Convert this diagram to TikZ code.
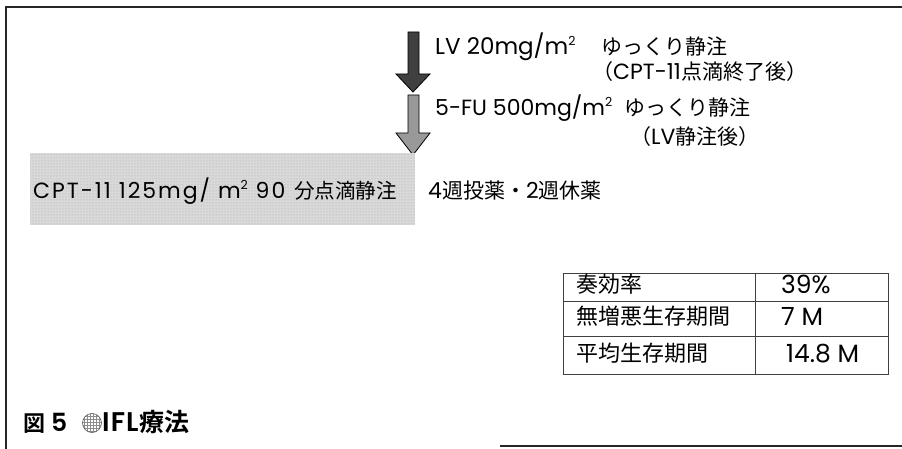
\documentclass[tikz,border=0pt]{standalone}
\usepackage{fontspec}
\setmainfont{Noto Sans CJK JP}
\newfontfamily\jpbold{Noto Sans CJK JP Bold}
\newfontfamily\latfont{Poppins}
\newfontfamily\latbold{Poppins SemiBold}
\newcommand{\sqrtwo}{\raisebox{0.42em}{\fontsize{12.5pt}{13pt}\selectfont 2}}
\usetikzlibrary{patterns}
\begin{document}
\begin{tikzpicture}[x=1pt,y=-1pt,
  txt/.style={inner sep=0pt,anchor=base west,font=\fontsize{21pt}{24pt}\selectfont},
  boxtxt/.style={inner sep=0pt,anchor=base west,font=\fontsize{20.5pt}{26pt}\selectfont},
  tabtxt/.style={inner sep=0pt,anchor=base west,font=\fontsize{22pt}{26pt}\selectfont},
  captxt/.style={inner sep=0pt,anchor=base west,font=\fontsize{25pt}{26pt}\jpbold},
  frameline/.style={line width=1.6pt,draw=black!85},
  tabline/.style={line width=1pt,draw=black!75},
  arrowshape/.style={draw=black,line width=0.8pt,line join=miter}]
\useasboundingbox (0,0) rectangle (902,449);
% frame
\coordinate (ftl) at (6,7);
\coordinate (ftr) at (902,7);
\coordinate (fbl) at (6,449);
\coordinate (bbl) at (500,446);
\coordinate (bbr) at (902,446);
\draw[frameline] (ftr) -- (ftl) -- (fbl);
\draw[frameline] (bbl) -- (bbr);
% dark arrow
\filldraw[arrowshape,fill=black!75] (408,32) -- (419,32) -- (419,74) -- (430,74) -- (413,92) -- (396,74) -- (408,74) -- cycle;
% light arrow
\filldraw[arrowshape,fill=black!40] (408,95) -- (419,95) -- (419,133) -- (430,133) -- (413,155) -- (396,133) -- (408,133) -- cycle;
% CPT-11 box
\fill[black!15] (30,153) rectangle (415,225);
\fill[pattern=dots,pattern color=black!35] (30,153) rectangle (415,225);
\node[boxtxt] (cpt) at (33,199) {{\latfont\fontsize{22pt}{26pt}\selectfont\addfontfeature{LetterSpace=9}CPT-11 125mg/ m\sqrtwo{} 90\kern9pt}分点滴静注};
\node[txt] (cycle) at (428,199) {{\latfont\fontsize{22pt}{24pt}\selectfont 4}週投薬・{\latfont\fontsize{22pt}{24pt}\selectfont 2}週休薬};
% LV
\node[txt] (lv) at (435,55) {\latfont\fontsize{23pt}{26pt}\selectfont LV 20mg/m\sqrtwo};
\node[txt] (lvslow) at (601,55) {ゆっくり静注};
\node[txt] (lvafter) at (592,80) {（{\latfont\fontsize{22pt}{24pt}\selectfont CPT-11}点滴終了後）};
% 5-FU
\node[txt] (fu) at (435,116) {\latfont\fontsize{22pt}{26pt}\selectfont 5-FU 500mg/m\sqrtwo};
\node[txt] (fuslow) at (624,116) {ゆっくり静注};
\node[txt] (fuafter) at (630,145) {（{\latfont\fontsize{22pt}{24pt}\selectfont LV}静注後）};
% table
\coordinate (t1) at (563,273);
\coordinate (t2) at (888,374);
\draw[tabline] (t1) rectangle (t2);
\draw[tabline] (563,301) -- (888,301);
\draw[tabline] (563,336) -- (888,336);
\draw[tabline] (755,273) -- (755,374);
\node[tabtxt] (r1a) at (576,292) {奏効率};
\node[tabtxt] (r1b) at (781,293) {\latfont\fontsize{25pt}{28pt}\selectfont 39\%};
\node[tabtxt] (r2a) at (576,324) {無増悪生存期間};
\node[tabtxt] (r2b) at (781,325) {\latfont\fontsize{25pt}{28pt}\selectfont 7 M};
\node[tabtxt] (r3a) at (576,361) {平均生存期間};
\node[tabtxt] (r3b) at (786,362) {\latfont\fontsize{25pt}{28pt}\selectfont 14.8 M};
% caption
\node[captxt,font=\fontsize{22pt}{26pt}\jpbold] (cap1) at (23,431) {図};
\node[captxt] (cap5) at (51,431) {\latbold\fontsize{25pt}{26pt}\selectfont 5};
\node[circle,draw=black!65,line width=0.6pt,fill=white,pattern=grid,pattern color=black!45,minimum size=19pt,inner sep=0pt] (capdot) at (92,423) {};
\node[captxt] (cap2) at (102,431) {{\latbold\fontsize{27pt}{26pt}\selectfont\addfontfeature{LetterSpace=4}IFL}\kern1pt療法};
\end{tikzpicture}
\end{document}
